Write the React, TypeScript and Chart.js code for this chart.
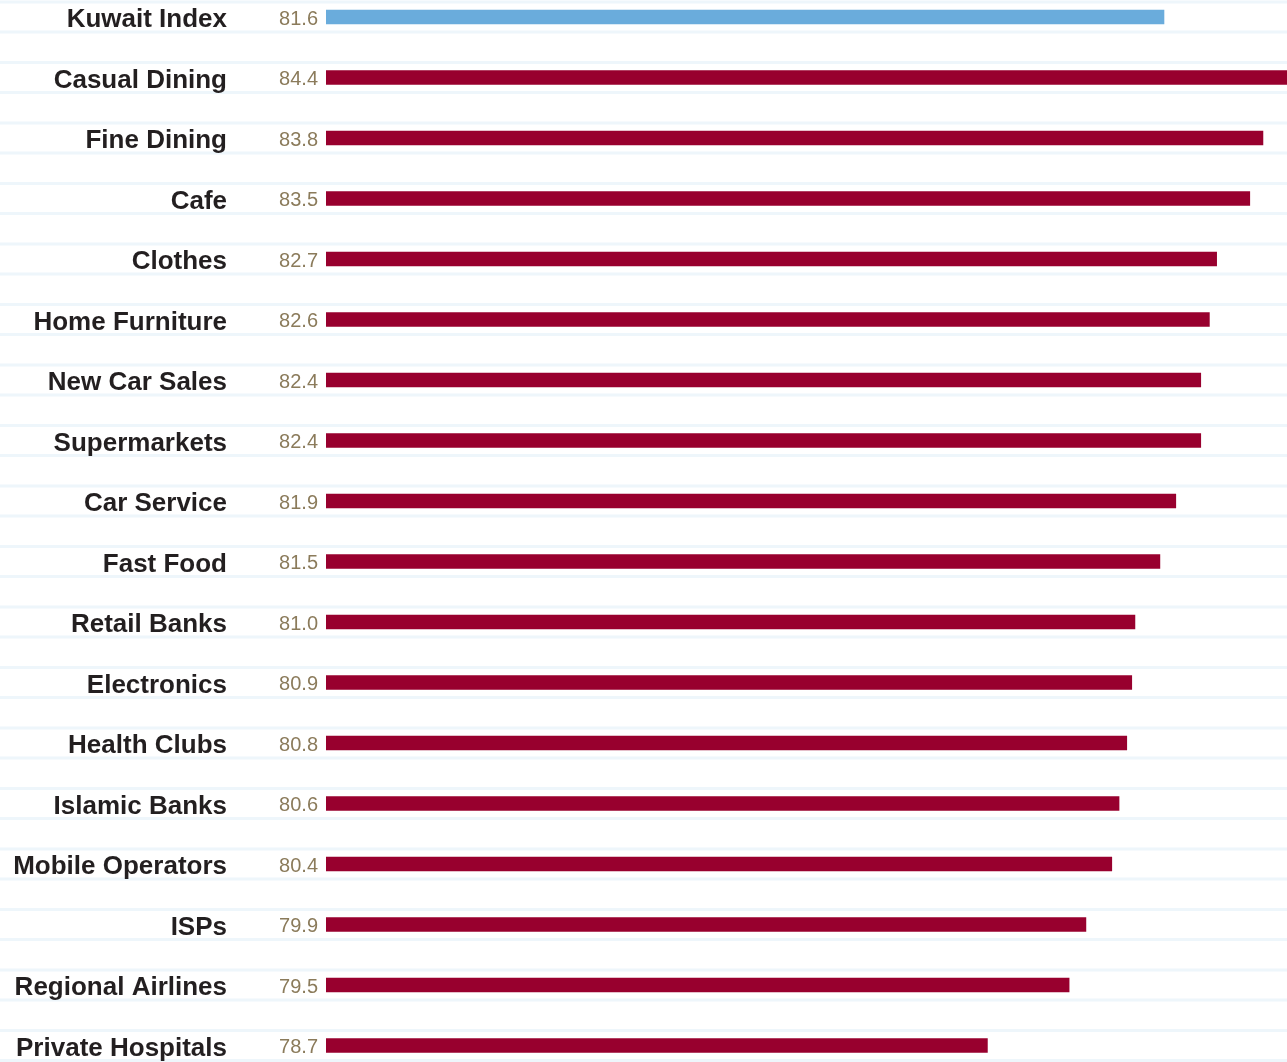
import React, { useEffect, useRef } from "react";
import { Chart, registerables } from "chart.js";

Chart.register(...registerables);

const categories: string[] = [
  "Kuwait Index",
  "Casual Dining",
  "Fine Dining",
  "Cafe",
  "Clothes",
  "Home Furniture",
  "New Car Sales",
  "Supermarkets",
  "Car Service",
  "Fast Food",
  "Retail Banks",
  "Electronics",
  "Health Clubs",
  "Islamic Banks",
  "Mobile Operators",
  "ISPs",
  "Regional Airlines",
  "Private Hospitals",
];

// score text printed next to each bar
const scoreLabels: string[] = [
  "81.6", "84.4", "83.8", "83.5", "82.7", "82.6", "82.4", "82.4", "81.9",
  "81.5", "81.0", "80.9", "80.8", "80.6", "80.4", "79.9", "79.5", "78.7",
];

// bar lengths
const barValues: number[] = [
  81.62, 84.4, 83.8, 83.51, 82.78, 82.62, 82.43, 82.43, 81.88,
  81.53, 80.98, 80.91, 80.8, 80.63, 80.47, 79.9, 79.53, 77.73,
];

const indexColor = "#6aacdc";
const sectorColor = "#98002e";
const stripeColor = "#eef6fb";
const valueColor = "#8b7b5b";
const labelColor = "#231f20";

const xMin = 63.16;
const xMax = 84.33;

const W = 1287;
const H = 1062;

const stripePlugin = {
  id: "rowStripes",
  beforeDraw(chart: any) {
    const ctx = chart.ctx;
    const yScale = chart.scales.y;
    ctx.save();
    ctx.fillStyle = stripeColor;
    categories.forEach((_, i) => {
      const yc = yScale.getPixelForValue(i);
      ctx.fillRect(0, yc - 16.5, chart.width, 3);
      ctx.fillRect(0, yc + 13.5, chart.width, 3);
    });
    ctx.restore();
  },
};

const valuePlugin = {
  id: "valueLabels",
  afterDatasetsDraw(chart: any) {
    const ctx = chart.ctx;
    const yScale = chart.scales.y;
    const x = chart.chartArea.left - 8;
    ctx.save();
    ctx.fillStyle = valueColor;
    ctx.font = '20px "Liberation Sans", Arial, sans-serif';
    ctx.textAlign = "right";
    ctx.textBaseline = "middle";
    scoreLabels.forEach((t, i) => {
      const yc = yScale.getPixelForValue(i);
      ctx.fillText(t, x, yc + 2);
    });
    ctx.restore();
  },
};

export default function App() {
  const ref = useRef<HTMLCanvasElement | null>(null);

  useEffect(() => {
    if (!ref.current) return;
    const chart = new Chart(ref.current, {
      type: "bar",
      data: {
        labels: categories,
        datasets: [
          {
            data: barValues,
            backgroundColor: categories.map((_, i) => (i === 0 ? indexColor : sectorColor)),
            barThickness: 14,
            borderWidth: 0,
            clip: { left: 0, top: 20, right: 20, bottom: 20 } as any,
          },
        ],
      },
      options: {
        indexAxis: "y",
        animation: false,
        responsive: false,
        layout: { padding: { top: 17, bottom: 16.5, left: 0, right: 0 } },
        plugins: {
          legend: { display: false },
          tooltip: { enabled: false },
        },
        scales: {
          x: {
            type: "linear",
            display: false,
            min: xMin,
            max: xMax,
          },
          y: {
            type: "category",
            offset: false,
            grid: { display: false, drawTicks: false },
            border: { display: false },
            ticks: {
              padding: 99,
              labelOffset: 3,
              color: labelColor,
              font: { family: '"Liberation Sans", Arial, sans-serif', size: 26, weight: "bold" },
            },
            afterFit(scale: any) {
              scale.width = 326;
              scale.paddingTop = 0;
              scale.paddingBottom = 0;
            },
          },
        },
      },
      plugins: [stripePlugin, valuePlugin],
    });
    return () => chart.destroy();
  }, []);

  return (
    <div style={{ position: "absolute", left: 0, top: 0, width: W, height: H, background: "#fff" }}>
      <canvas ref={ref} width={W} height={H} style={{ display: "block" }} />
    </div>
  );
}
